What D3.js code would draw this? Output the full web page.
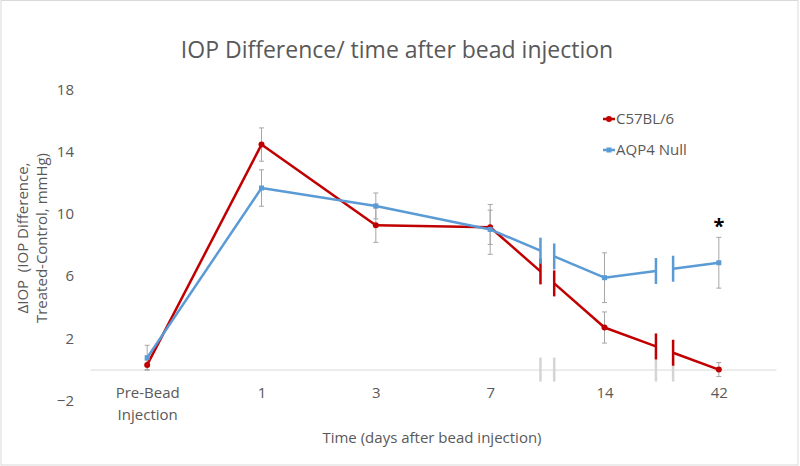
<!DOCTYPE html>
<html><head><meta charset="utf-8">
<script src="https://cdn.jsdelivr.net/npm/d3@7"></script>
<style>body{margin:0;background:#fff}svg{display:block}text{font-family:"Open Sans",sans-serif;fill:#595959}</style>
</head><body>
<svg id="c" width="800" height="466"></svg>
<script>
const categories = ["Pre-Bead|Injection", "1", "3", "7", "14", "42"];
const c57Values = [0.3, 14.45, 9.27, 9.14, 2.7, 0.0];
const c57Errors = [0.3, 1.07, 1.1, 1.1, 1.0, 0.45];
const aqp4Values = [0.76, 11.66, 10.51, 9.0, 5.9, 6.86];
const aqp4Errors = [0.8, 1.17, 0.83, 1.6, 1.6, 1.63];
const seriesNames = ["C57BL/6", "AQP4 Null"];
const yTicks = [-2, 2, 6, 10, 14, 18];
// axis-break positions (fractional category index)
const breaks = [[3.44, 3.56], [4.45, 4.6]];
const sigIndex = 5;

const svg = d3.select("#c");
svg.append("rect").attr("x",1).attr("y",0.5).attr("width",797).attr("height",464.5)
  .attr("fill","#fff").attr("stroke","#D9D9D9");

const x = d3.scaleLinear().domain([-0.5, categories.length - 0.5]).range([90, 776]);
const y = d3.scaleLinear().domain([-2, 18]).range([400.7, 89.3]);

// title
svg.append("text").attr("x",397).attr("y",58).attr("text-anchor","middle")
  .style("font-size","23px").text("IOP Difference/ time after bead injection");

// y axis labels
const ya = svg.append("g").attr("transform","translate(80,0)")
  .call(d3.axisLeft(y).tickValues(yTicks).tickSize(0).tickPadding(6));
ya.select(".domain").remove();
ya.selectAll("text").style("font-size","15px").style("fill","#595959").style("font-family","'Open Sans',sans-serif");

// x axis at y=0
const xa = svg.append("g").attr("transform",`translate(0,${y(0)})`)
  .call(d3.axisBottom(x).tickValues(d3.range(categories.length)).tickSize(0).tickFormat(""));
xa.select(".domain").attr("stroke","#D9D9D9").attr("stroke-width",1);
xa.selectAll(".tick").each(function(d){
  const lines = categories[d].split("|");
  const t = d3.select(this).append("text").attr("text-anchor","middle")
    .style("font-size","15px").attr("y",28);
  lines.forEach((l,i)=>t.append("tspan").attr("x",0).attr("dy", i===0?0:22).text(l));
});

// axis-break marks on the category axis
breaks.forEach(b => b.forEach(p => {
  svg.append("line").attr("x1",x(p)).attr("x2",x(p))
    .attr("y1",y(0)-12).attr("y2",y(0)+12)
    .attr("stroke","#D4D4D4").attr("stroke-width",2.5);
}));

// axis titles
svg.append("text").attr("x",432).attr("y",443).attr("text-anchor","middle")
  .style("font-size","15px").text("Time (days after bead injection)");
const yt = svg.append("text").attr("transform","translate(28,238) rotate(-90)")
  .attr("text-anchor","middle").style("font-size","15px");
yt.append("tspan").attr("x",0).attr("dy",0).text("\u0394IOP\u00A0\u00A0(IOP Difference,");
yt.append("tspan").attr("x",0).attr("dy",19).text("Treated-Control, mmHg)");

const series = [
  {name: seriesNames[0], values: c57Values, errors: c57Errors, color: "#C00000", marker: "circle"},
  {name: seriesNames[1], values: aqp4Values, errors: aqp4Errors, color: "#5B9BD5", marker: "square"}
];

function interp(vals, p){
  const i = Math.floor(p), f = p - i;
  return vals[i] + (vals[i+1]-vals[i]) * f;
}

// error bars
series.forEach(s => {
  const g = svg.append("g");
  s.values.forEach((v,i) => {
    const e = s.errors[i];
    g.append("line").attr("x1",x(i)).attr("x2",x(i)).attr("y1",y(v+e)).attr("y2",y(v-e))
      .attr("stroke","#A6A6A6").attr("stroke-width",1);
    [v+e, v-e].forEach(w => g.append("line").attr("x1",x(i)-2.5).attr("x2",x(i)+2.5)
      .attr("y1",y(w)).attr("y2",y(w)).attr("stroke","#A6A6A6").attr("stroke-width",1));
  });
});

// lines with breaks
series.forEach(s => {
  const g = svg.append("g");
  const line = d3.line().x(d=>x(d[0])).y(d=>y(d[1]));
  for (let i = 0; i < s.values.length - 1; i++) {
    const br = breaks.find(b => b[0] > i && b[1] < i+1);
    if (br) {
      const segs = [[[i, s.values[i]], [br[0], interp(s.values, br[0])]],
                    [[br[1], interp(s.values, br[1])], [i+1, s.values[i+1]]]];
      segs.forEach(sg => g.append("path").attr("d", line(sg)).attr("fill","none")
        .attr("stroke", s.color).attr("stroke-width",2.5));
      br.forEach(p => {
        const yv = y(interp(s.values, p));
        g.append("line").attr("x1",x(p)).attr("x2",x(p)).attr("y1",yv-13).attr("y2",yv+13)
          .attr("stroke", s.color).attr("stroke-width",2.5);
      });
    } else {
      g.append("path").attr("d", line([[i, s.values[i]], [i+1, s.values[i+1]]]))
        .attr("fill","none").attr("stroke", s.color).attr("stroke-width",2.5);
    }
  }
  s.values.forEach((v,i) => {
    if (s.marker === "circle") g.append("circle").attr("cx",x(i)).attr("cy",y(v)).attr("r",3).attr("fill",s.color);
    else g.append("rect").attr("x",x(i)-2.5).attr("y",y(v)-2.5).attr("width",5).attr("height",5).attr("fill",s.color);
  });
});

// significance asterisk
svg.append("text").attr("x",x(sigIndex)).attr("y",y(aqp4Values[sigIndex]+aqp4Errors[sigIndex])-4)
  .attr("text-anchor","middle").style("font-size","20px").style("font-weight","bold").style("fill","#000").text("*");

// legend
series.forEach((s,i) => {
  const ly = 119 + i*31;
  const g = svg.append("g");
  g.append("line").attr("x1",603).attr("x2",615).attr("y1",ly).attr("y2",ly).attr("stroke",s.color).attr("stroke-width",2.5);
  if (s.marker === "circle") g.append("circle").attr("cx",609).attr("cy",ly).attr("r",3).attr("fill",s.color);
  else g.append("rect").attr("x",606.5).attr("y",ly-2.5).attr("width",5).attr("height",5).attr("fill",s.color);
  g.append("text").attr("x",616).attr("y",ly+5).style("font-size","15px").text(s.name);
});
</script>
</body></html>
